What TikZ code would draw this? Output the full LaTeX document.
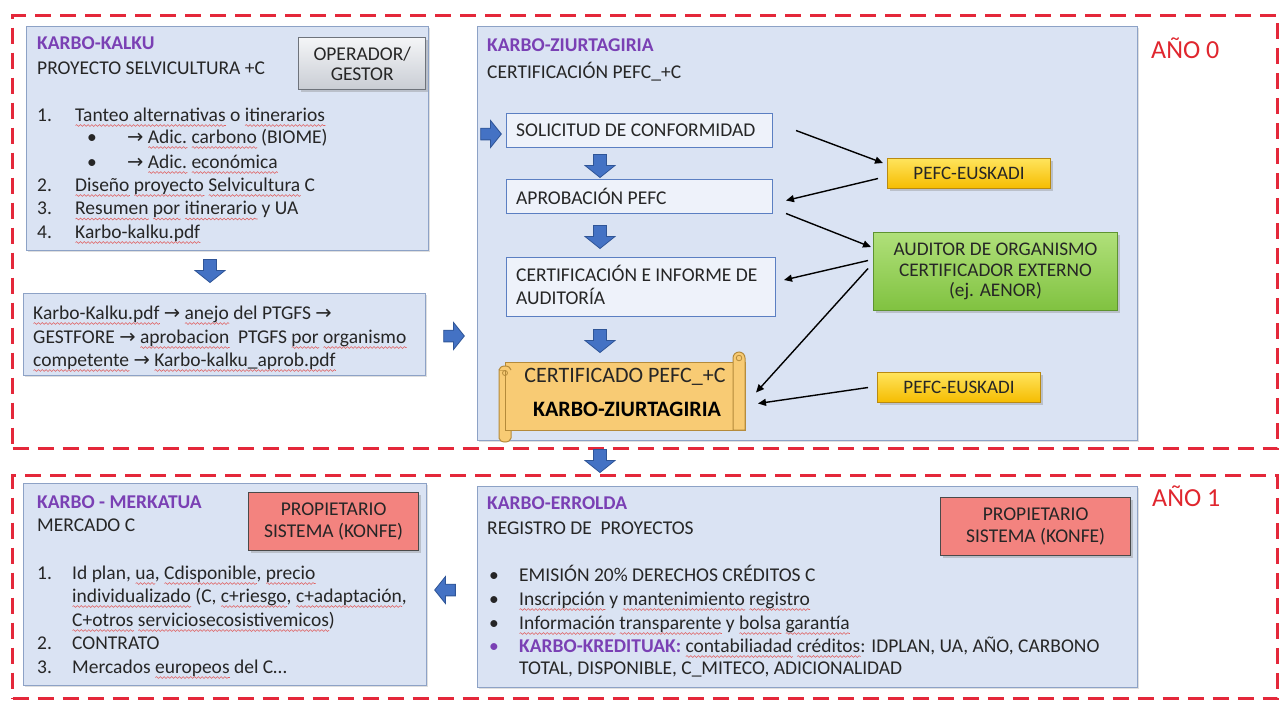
\documentclass[tikz,border=0pt]{standalone}
\usepackage{fontspec}
\setmainfont{Carlito}
\newfontfamily\dvfont{DejaVu Sans}
\usetikzlibrary{shadows,calc,arrows.meta,decorations.pathmorphing}
\definecolor{framered}{HTML}{E4283A}
\definecolor{panelfill}{HTML}{DAE3F3}
\definecolor{panelborder}{HTML}{8DA2C6}
\definecolor{titlepurple}{HTML}{7A40B4}
\definecolor{txtc}{HTML}{262626}
\definecolor{wavered}{HTML}{E06060}
\definecolor{arrowblue}{HTML}{4472C4}
\definecolor{arrowborder}{HTML}{2F5597}
\definecolor{stepfill}{HTML}{EEF2FA}
\definecolor{stepborder}{HTML}{5B7FC2}
\definecolor{yelTop}{HTML}{FFE45C}
\definecolor{yelBot}{HTML}{F5BC00}
\definecolor{yelBorder}{HTML}{B98A10}
\definecolor{grnTop}{HTML}{B0E07A}
\definecolor{grnBot}{HTML}{80C240}
\definecolor{grnBorder}{HTML}{5E9330}
\definecolor{salmon}{HTML}{F3837F}
\definecolor{salmonBorder}{HTML}{4A4A4A}
\definecolor{grayTop}{HTML}{F4F5F7}
\definecolor{grayBot}{HTML}{C9CDD4}
\definecolor{grayBorder}{HTML}{6E737B}
\definecolor{scrollfill}{HTML}{F8CB74}
\definecolor{scrollborder}{HTML}{B48A3A}
\definecolor{red0}{HTML}{E0262E}
\newsavebox\rwbox
\newcommand\rw[1]{\sbox\rwbox{#1}\leavevmode\rlap{\raisebox{-4.5pt}{\tikz[baseline=0pt]{\draw[wavered, line width=0.55pt, decorate, decoration={snake, amplitude=0.9pt, segment length=3.8pt}] (0pt,0pt) -- (\wd\rwbox,0pt);}}}\usebox\rwbox}
\newcommand\rarr{{\dvfont\char"2192}}
\newcommand\fA{\fontsize{19.5}{23}\selectfont}
\begin{document}
\begin{tikzpicture}[x=1pt,y=-1pt,
  panel/.style={draw=panelborder, line width=1.2pt, fill=panelfill, anchor=north west, inner sep=0pt,
    drop shadow={shadow xshift=1.5pt, shadow yshift=-1.5pt, opacity=0.25}},
  frame/.style={draw=framered, line width=3pt, dash pattern=on 16pt off 9pt, anchor=north west, inner sep=0pt},
  ltxt/.style={anchor=base west, inner sep=0pt, text=txtc, font=\fA},
  ttl/.style={anchor=base west, inner sep=0pt, font=\fA\bfseries, text=titlepurple},
  stepbox/.style={draw=stepborder, line width=1pt, fill=stepfill, anchor=north west, inner sep=0pt},
  barr/.pic={\path[draw=arrowborder, line width=0.8pt, fill=arrowblue]
     (-11.5,-6.5) -- (-0.5,-6.5) -- (-0.5,-15) -- (11.5,0) -- (-0.5,15) -- (-0.5,6.5) -- (-11.5,6.5) -- cycle;},
  link/.style={line width=1.4pt, -{Triangle[length=8pt,width=7pt]}, draw=black},
  yelbox/.style={anchor=north west, draw=yelBorder, line width=1pt, top color=yelTop, bottom color=yelBot,
    drop shadow={shadow xshift=2pt, shadow yshift=-2pt, opacity=0.35}, inner sep=0pt,
    font=\fontsize{19}{21}\selectfont, text=txtc},
  grnbox/.style={anchor=north west, draw=grnBorder, line width=1pt, top color=grnTop, bottom color=grnBot,
    drop shadow={shadow xshift=2pt, shadow yshift=-2pt, opacity=0.35}, inner sep=0pt, align=center,
    font=\fontsize{19.3}{20.5}\selectfont, text=txtc},
  propbox/.style={anchor=north west, draw=salmonBorder, line width=1.2pt, fill=salmon,
    drop shadow={shadow xshift=2pt, shadow yshift=-2pt, opacity=0.35}, inner sep=0pt, align=center,
    font=\fontsize{19.5}{21.5}\selectfont, text=txtc},
  opbox/.style={anchor=north west, draw=grayBorder, line width=1.4pt, top color=grayTop, bottom color=grayBot,
    drop shadow={shadow xshift=2pt, shadow yshift=-2pt, opacity=0.35}, inner sep=0pt, align=center,
    font=\fontsize{19.5}{19.5}\selectfont, text=txtc},
  scrollpart/.style={draw=scrollborder, line width=1pt, fill=scrollfill}
]
\useasboundingbox (0,0) rectangle (1284,702);
\fill[white] (0,0) rectangle (1284,702);

% year frames
\node[frame, minimum width=1265pt, minimum height=433pt] (f0) at (11,14) {};
\node[frame, minimum width=1265pt, minimum height=223pt] (f1) at (11,474) {};
\node[anchor=base west, inner sep=0pt, font=\fontsize{26}{30}\selectfont, text=red0] (ano0) at (1151,58) {AÑO 0};
\node[anchor=base west, inner sep=0pt, font=\fontsize{26}{30}\selectfont, text=red0] (ano1) at (1152,506) {AÑO 1};

% panels
\node[panel, minimum width=402pt, minimum height=224pt] (kalku) at (26,26) {};
\node[panel, minimum width=402pt, minimum height=82pt] (pdfbox) at (23,293) {};
\node[panel, minimum width=660pt, minimum height=414pt] (ziurt) at (477,26) {};
\node[panel, minimum width=403pt, minimum height=202pt] (merk) at (23,483) {};
\node[panel, minimum width=660pt, minimum height=201pt] (errolda) at (477,486) {};

% KARBO-KALKU
\node[opbox, minimum width=127pt, minimum height=52pt] (oper) at (298,37) {OPERADOR/\\GESTOR};
\node[ttl] (kt1) at (37,49.5) {KARBO-KALKU};
\node[ltxt] (kt2) at (37,74.5) {PROYECTO SELVICULTURA +C};
\node[ltxt] (k1n) at (37,121) {1.};
\node[ltxt] (k1) at (75,121) {\rw{Tanteo alternativas} o \rw{itinerarios}};
\node[ltxt] (k1an) at (87,143) {\textbullet};
\node[ltxt] (k1a) at (127,143) {\rarr\ \rw{Adic.} \rw{carbono} (BIOME)};
\node[ltxt] (k1bn) at (87,168) {\textbullet};
\node[ltxt] (k1b) at (127,168) {\rarr\ \rw{Adic.} \rw{económica}};
\node[ltxt] (k2n) at (37,191) {2.};
\node[ltxt] (k2) at (75,191) {\rw{Diseño} \rw{proyecto} \rw{Selvicultura} C};
\node[ltxt] (k3n) at (37,214.5) {3.};
\node[ltxt] (k3) at (75,214.5) {\rw{Resumen} \rw{por} \rw{itinerario} y UA};
\node[ltxt] (k4n) at (37,238) {4.};
\node[ltxt] (k4) at (75,238) {\rw{Karbo-kalku.pdf}};

% pdf box
\node[ltxt] (p1) at (33,319) {\rw{Karbo-Kalku.pdf} \rarr\ \rw{anejo} del PTGFS \rarr};
\node[ltxt] (p2) at (33,343) {GESTFORE \rarr\ \rw{aprobacion}\ \ PTGFS \rw{por} \rw{organismo}};
\node[ltxt] (p3) at (33,366) {\rw{competente} \rarr\ \rw{Karbo-kalku\_aprob.pdf}};

% block arrows
\pic[rotate=-90] (a1) at (210,271) {barr};
\pic[scale=0.9] (a2) at (454,336) {barr};
\pic[scale=0.9] (a3) at (491,134) {barr};
\pic[rotate=-90] (a4) at (600,166) {barr};
\pic[rotate=-90] (a5) at (600,237) {barr};
\pic[rotate=-90] (a6) at (600,341) {barr};
\pic[rotate=-90] (a7) at (600,461) {barr};
\pic[rotate=180, scale=0.9] (a8) at (445,590) {barr};

% KARBO-ZIURTAGIRIA
\node[ttl] (zt1) at (487,51) {KARBO-ZIURTAGIRIA};
\node[ltxt] (zt2) at (487,78) {CERTIFICACIÓN PEFC\_+C};
\node[stepbox, minimum width=266pt, minimum height=34pt] (sol) at (506,113) {};
\node[ltxt, anchor=west] (solt) at ($(sol.west)+(10,0)$) {SOLICITUD DE CONFORMIDAD};
\node[stepbox, minimum width=266pt, minimum height=34pt] (aprob) at (506,179) {};
\node[ltxt, anchor=west] (aprobt) at ($(aprob.west)+(10,0)$) {APROBACIÓN PEFC};
\node[stepbox, minimum width=269pt, minimum height=59pt] (certb) at (506,257) {};
\node[ltxt, anchor=base west] (certbt1) at (516,281) {CERTIFICACIÓN E INFORME DE};
\node[ltxt, anchor=base west] (certbt2) at (516,304) {AUDITORÍA};

% scroll
\draw[scrollpart] (499,370) -- (499,438) arc[start angle=180, end angle=360, x radius=6pt, y radius=4pt] -- (511,370) -- cycle;
\node[anchor=north west, draw=scrollborder, line width=1pt, fill=scrollfill, inner sep=0pt,
  minimum width=240pt, minimum height=68pt] (scroll) at (505,362) {};
\draw[scrollpart] (733,430) -- (733,358) arc[start angle=180, end angle=0, x radius=6pt, y radius=6pt] -- (745,430) -- cycle;
\draw[scrollpart] (499,370) arc[start angle=180, end angle=0, x radius=6pt, y radius=4pt];
\draw[scrollborder, line width=0.8pt] (505,373) circle[radius=2.5pt];
\draw[scrollborder, line width=0.8pt] (739,358) circle[radius=2.8pt];
\node[inner sep=0pt, font=\fontsize{22}{24}\selectfont, text=txtc] (sc1) at (625,377) {CERTIFICADO PEFC\_+C};
\node[inner sep=0pt, font=\fontsize{22}{24}\selectfont\bfseries, text=black] (sc2) at (627,409) {KARBO-ZIURTAGIRIA};

\node[yelbox, minimum width=163pt, minimum height=30pt] (pefc1) at (887,158) {PEFC-EUSKADI};
\node[grnbox, minimum width=244pt, minimum height=78pt] (auditor) at (873,232) {AUDITOR DE ORGANISMO\\CERTIFICADOR EXTERNO\\(ej. AENOR)};
\node[yelbox, minimum width=163pt, minimum height=30pt] (pefc2) at (877,372) {PEFC-EUSKADI};

% connectors
\draw[link] ($(sol.east)+(23,0)$) -- ($(pefc1.north west)+(-4,5)$);
\draw[link] ($(pefc1.west)+(-9,5)$) -- ($(aprob.east)+(13,4)$);
\draw[link] ($(aprob.east)+(13,17)$) -- ($(auditor.north west)+(-2,15)$);
\draw[link] ($(auditor.west)+(-5,-11)$) -- ($(certb.east)+(8,-7)$);
\draw[link] ($(auditor.west)+(-5,-3)$) -- ($(scroll.east)+(10,-4)$);
\draw[link] ($(pefc2.west)+(-9,0)$) -- ($(scroll.east)+(12,7)$);

% KARBO-MERKATUA
\node[propbox, minimum width=170pt, minimum height=58pt] (prop1) at (248,492) {PROPIETARIO\\SISTEMA (KONFE)};
\node[ttl] (mt1) at (37,508) {KARBO - MERKATUA};
\node[ltxt] (mt2) at (37,531) {MERCADO C};
\node[ltxt] (m1n) at (37,579) {1.};
\node[ltxt] (m1a) at (72,579) {Id plan, \rw{ua}, \rw{Cdisponible}, \rw{precio}};
\node[ltxt] (m1b) at (72,602) {\rw{individualizado} (C, \rw{c+riesgo}, \rw{c+adaptación},};
\node[ltxt] (m1c) at (72,626) {\rw{C+otros} \rw{serviciosecosistivemicos})};
\node[ltxt] (m2n) at (37,649) {2.};
\node[ltxt] (m2) at (72,649) {CONTRATO};
\node[ltxt] (m3n) at (37,673) {3.};
\node[ltxt] (m3) at (72,673) {Mercados \rw{europeos} del C…};

% KARBO-ERROLDA
\node[propbox, minimum width=190pt, minimum height=58pt] (prop2) at (940,497) {PROPIETARIO\\SISTEMA (KONFE)};
\node[ttl] (et1) at (487,509) {KARBO-ERROLDA};
\node[ltxt] (et2) at (487,534) {REGISTRO DE\ \ PROYECTOS};
\node[ltxt] (e1n) at (489,581) {\textbullet};
\node[ltxt] (e1) at (519,581) {EMISIÓN 20\% DERECHOS CRÉDITOS C};
\node[ltxt] (e2n) at (489,605) {\textbullet};
\node[ltxt] (e2) at (519,605) {\rw{Inscripción} y \rw{mantenimiento} \rw{registro}};
\node[ltxt] (e3n) at (489,629) {\textbullet};
\node[ltxt] (e3) at (519,629) {\rw{Información} \rw{transparente} y \rw{bolsa} \rw{garantía}};
\node[ltxt, text=titlepurple] (e4n) at (489,652) {\textbullet};
\node[ltxt] (e4) at (519,652) {{\bfseries\color{titlepurple}KARBO-KREDITUAK:} \rw{contabiliadad} \rw{créditos}: IDPLAN, UA, AÑO, CARBONO};
\node[ltxt] (e5) at (519,674) {TOTAL, DISPONIBLE, C\_MITECO, ADICIONALIDAD};
\end{tikzpicture}
\end{document}
